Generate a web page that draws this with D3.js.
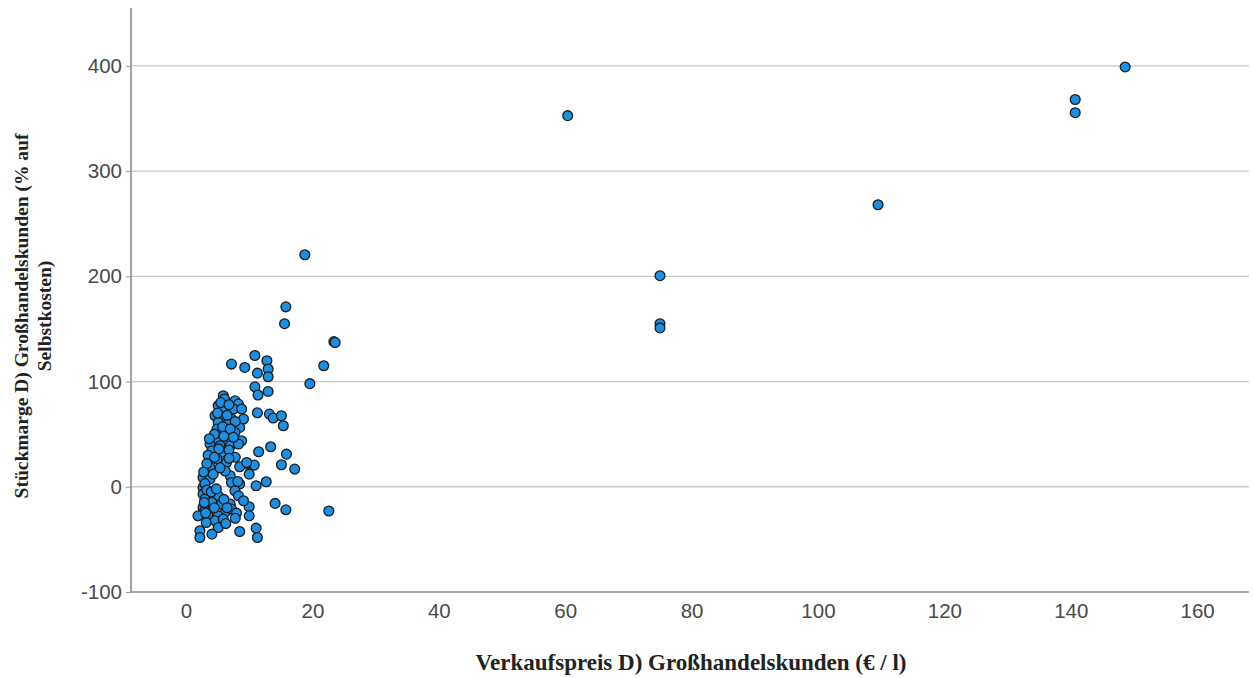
<!DOCTYPE html>
<html>
<head>
<meta charset="utf-8">
<script src="https://cdn.jsdelivr.net/npm/d3@7"></script>
<style>
  html, body { margin: 0; padding: 0; background: #fff; }
  svg { display: block; }
</style>
</head>
<body>
<svg id="chart" width="1253" height="678"></svg>
<script>
// ---- Data ----
const priceValues = [
  148.6, 140.7, 140.7, 109.5, 60.4, 75, 75, 75, 18.8, 15.8, 15.6, 23.4, 23.6, 21.8, 19.6, 22.6,
  10.9, 7.2, 9.3, 12.8, 13.0, 11.3, 13.0, 10.9, 11.4, 13.0, 11.3, 13.2, 13.8, 15.1, 15.4,
  11.5, 13.4, 15.9, 15.1, 17.2, 11.1, 12.7, 14.1, 15.8, 10.0, 10.0, 11.1, 11.3, 8.5, 9.6, 8.5, 10.8, 10.0,
  5.9, 6.1, 7.75, 8.3, 5.1, 5.9, 7.5, 8.8, 4.6, 6.2, 9.1, 7.2, 5.1, 6.7, 8.5, 4.9, 6.2, 7.75, 5.6, 7.2, 8.8, 4.1, 4.9, 6.4,
  3.8, 5.4, 7.0, 8.3, 4.1, 5.6, 4.9, 6.4, 3.8, 9.6, 7.0, 2.7, 3.8, 7.2, 8.5, 2.7, 7.75, 2.7, 3.0, 5.1, 8.3, 9.1,
  4.1, 5.6, 7.0, 2.7, 3.0, 6.2, 7.2, 3.5, 5.1, 1.9, 4.6, 5.9, 5.1, 4.1, 2.2, 2.2,
  5.5, 6.8, 5.0, 6.5, 7.8, 5.8, 7.0, 4.5, 6.0, 7.5, 5.2, 6.8, 3.5, 4.5, 3.3, 4.3, 3.0, 3.3, 4.0, 6.0,
  4.5, 6.5, 3.2, 6.3, 8.0, 7.8, 8.2, 4.8, 6.2, 5.4, 7.8, 6.8, 3.7, 2.8, 2.9, 3.1
];
const marginValues = [
  399, 368, 355.5, 268, 352.7, 200.6, 155, 151, 220.5, 171, 155, 138, 137, 115, 98, -23,
  124.8, 116.6, 113.4, 119.8, 111.9, 108, 104.6, 95, 87.2, 90.6, 70.3, 69.1, 65.3, 67.5, 58,
  33.3, 38, 31, 20.9, 16.8, 1, 4.8, -15.8, -21.9, -19, -27.6, -39.3, -48.2, -42.5, 21.6, 19, 20.6, 12,
  86.5, 83.4, 81.7, 78.6, 77, 72.2, 73.9, 73.9, 67.5, 65.9, 64.4, 64.4, 61.1, 59.6, 56.4, 54.8, 53.2, 51.6, 46.9, 45.3, 43.7, 43.7, 42.1, 42.1,
  40.6, 39, 39, 40.6, 34.2, 32.6, 26.3, 23.1, 18.3, 23.1, 10.5, 8.8, 7.3, 4.1, 2.6, -0.7, -3.8, -7, -11.7, -8.6, -8.6, -13.3,
  -14.9, -16.4, -16.4, -19.7, -22.8, -24.4, -21.2, -27.6, -27.6, -27.6, -32.3, -30.7, -38.7, -45, -41.8, -48.2,
  80, 78, 70, 68, 62, 57, 55, 50, 48, 47, 36, 35, 30, 28, 22, 12, 3, -3, -5, -12,
  -20, -20, -34, -35, -25, -30, 5, -2, 15, 18, 28, 27, 45.6, 14, -15, -25
];
const xTicks = [0, 20, 40, 60, 80, 100, 120, 140, 160];
const yTicks = [-100, 0, 100, 200, 300, 400];
const xTitle = "Verkaufspreis D) Großhandelskunden (€ / l)";
const yTitleLines = ["Stückmarge D) Großhandelskunden (% auf", "Selbstkosten)"];

// ---- Layout ----
const svg = d3.select("#chart");
const plotLeft = 131, plotRight = 1249, plotTop = 8, plotBottom = 592;

const x = d3.scaleLinear().domain([-8.7, 168.2]).range([plotLeft, plotRight]);
const y = d3.scaleLinear().domain([-100, 455]).range([plotBottom, plotTop]);
const fmt = d => String(d); // plain hyphen minus like the reference

// gridlines
svg.append("g")
  .selectAll("line")
  .data(yTicks.filter(t => t !== -100))
  .join("line")
  .attr("x1", plotLeft).attr("x2", plotRight)
  .attr("y1", d => y(d)).attr("y2", d => y(d))
  .attr("stroke", "#c9c9c9").attr("stroke-width", 1.3);

// y axis
const yAxis = d3.axisLeft(y).tickValues(yTicks).tickSize(5).tickPadding(4).tickFormat(fmt);
const gy = svg.append("g").attr("transform", `translate(${plotLeft},0)`).call(yAxis);
gy.select(".domain").remove();
gy.selectAll(".tick line").attr("stroke", "#9a9a9a");
gy.selectAll(".tick text")
  .attr("font-family", "Liberation Sans, Arial, sans-serif")
  .attr("font-size", 20.5).attr("fill", "#4a4a4a");

// x axis
const xAxis = d3.axisBottom(x).tickValues(xTicks).tickSize(0).tickPadding(11).tickFormat(fmt);
const gx = svg.append("g").attr("transform", `translate(0,${plotBottom})`).call(xAxis);
gx.select(".domain").remove();
gx.selectAll(".tick text")
  .attr("font-family", "Liberation Sans, Arial, sans-serif")
  .attr("font-size", 20.5).attr("fill", "#4a4a4a");

// axis lines
svg.append("line").attr("x1", plotLeft).attr("x2", plotLeft).attr("y1", plotTop).attr("y2", plotBottom)
  .attr("stroke", "#8c8c8c").attr("stroke-width", 1.6);
svg.append("line").attr("x1", plotLeft).attr("x2", plotRight).attr("y1", plotBottom).attr("y2", plotBottom)
  .attr("stroke", "#8c8c8c").attr("stroke-width", 1.6);

// points
const pts = priceValues.map((v, i) => ({ px: v, py: marginValues[i] }));
svg.append("g")
  .selectAll("circle")
  .data(pts)
  .join("circle")
  .attr("cx", d => x(d.px))
  .attr("cy", d => y(d.py))
  .attr("r", 4.9)
  .attr("fill", "#1b8fe3")
  .attr("stroke", "#1b1b1b")
  .attr("stroke-width", 1.3);

// x title
svg.append("text")
  .attr("x", 691).attr("y", 670)
  .attr("text-anchor", "middle")
  .attr("font-family", "Liberation Serif, 'Times New Roman', serif")
  .attr("font-weight", "bold").attr("font-size", 23).attr("fill", "#222")
  .text(xTitle);

// y title
const yt = svg.append("text")
  .attr("transform", "translate(28,316) rotate(-90)")
  .attr("text-anchor", "middle")
  .attr("font-family", "Liberation Serif, 'Times New Roman', serif")
  .attr("font-weight", "bold").attr("font-size", 19.5).attr("fill", "#222");
yt.selectAll("tspan").data(yTitleLines).join("tspan")
  .attr("x", 0).attr("dy", (d, i) => i === 0 ? 0 : 23)
  .text(d => d);
</script>
</body>
</html>
